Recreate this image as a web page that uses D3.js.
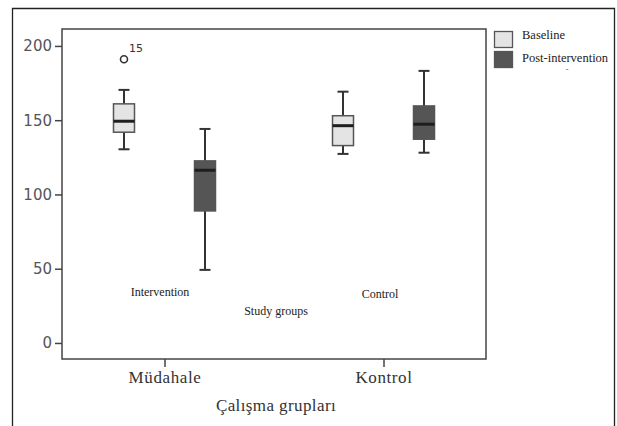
<!DOCTYPE html>
<html><head><meta charset="utf-8">
<script src="https://cdn.jsdelivr.net/npm/d3@7"></script>
<style>body{margin:0;background:#fff}svg{display:block}</style>
</head><body>
<svg id="c" width="617" height="426"></svg>
<script>
const categories = ["Müdahale", "Kontrol"];
const seriesNames = ["Baseline", "Post-intervention"];
// [lowWhisker, Q1, median, Q3, highWhisker]
const baselineStats = [[130.4, 141.9, 149.3, 161, 170.4], [127.3, 132.9, 146.3, 153, 169.2]];
const postStats = [[49.2, 88.9, 116.3, 122.6, 144.1], [128.1, 137.2, 147.3, 159.6, 183.2]];
const outliers = [{cat: "Müdahale", series: 0, value: 191, label: "15"}];
const yTicks = [0, 50, 100, 150, 200];
const annotations = [
  {text: "Intervention", x: 160, y: 292},
  {text: "Study groups", x: 276, y: 311},
  {text: "Control", x: 380, y: 294}
];
const fills = ["#e4e4e4", "#555555"];

const svg = d3.select("#c");
// outer frame (extends beyond bottom)
svg.append("path").attr("d", "M12.5,440 V8.5 H614.5 V440").attr("fill", "none").attr("stroke", "#222").attr("stroke-width", 1.3);

const L = 62, R = 486, T = 29, B = 359;
const y = d3.scaleLinear().domain([-10.8, 211.4]).range([B, T]);
const x = d3.scalePoint().domain(categories).range([L, R]).padding(0.468);
const offsets = [-40.5, 40.5];
const boxW = 21;

svg.append("rect").attr("x", L).attr("y", T).attr("width", R - L).attr("height", B - T)
  .attr("fill", "none").attr("stroke", "#444").attr("stroke-width", 1.5);

const yAxis = svg.append("g").attr("transform", `translate(${L},0)`)
  .call(d3.axisLeft(y).tickValues(yTicks).tickSize(7).tickPadding(3));
yAxis.select(".domain").remove();
yAxis.selectAll("line").attr("stroke", "#444").attr("stroke-width", 1.5);
yAxis.selectAll("text").attr("fill", "#555").attr("font-family", "DejaVu Sans, sans-serif").attr("font-size", 15);

const xAxis = svg.append("g").attr("transform", `translate(0,${B})`)
  .call(d3.axisBottom(x).tickSize(8).tickPadding(4));
xAxis.select(".domain").remove();
xAxis.selectAll("line").attr("stroke", "#444").attr("stroke-width", 1.5);
xAxis.selectAll("text").attr("fill", "#333").attr("font-family", "Liberation Serif, serif").attr("font-size", 17).attr("letter-spacing", 0.6);

svg.append("text").attr("x", 276).attr("y", 411).attr("text-anchor", "middle")
  .attr("font-family", "Liberation Serif, serif").attr("font-size", 17).attr("fill", "#333").attr("letter-spacing", 0.4)
  .text("Çalışma grupları");

[baselineStats, postStats].forEach((stats, si) => {
  stats.forEach((s, ci) => {
    const cx = x(categories[ci]) + offsets[si];
    const g = svg.append("g");
    const [lo, q1, med, q3, hi] = s;
    g.append("line").attr("x1", cx).attr("x2", cx).attr("y1", y(hi)).attr("y2", y(q3)).attr("stroke", "#333").attr("stroke-width", 2);
    g.append("line").attr("x1", cx).attr("x2", cx).attr("y1", y(q1)).attr("y2", y(lo)).attr("stroke", "#333").attr("stroke-width", 2);
    [lo, hi].forEach(v => g.append("line").attr("x1", cx - 5.5).attr("x2", cx + 5.5).attr("y1", y(v)).attr("y2", y(v)).attr("stroke", "#333").attr("stroke-width", 2));
    g.append("rect").attr("x", cx - boxW / 2).attr("y", y(q3)).attr("width", boxW).attr("height", y(q1) - y(q3))
      .attr("fill", fills[si]).attr("stroke", "#555").attr("stroke-width", 1.5);
    g.append("line").attr("x1", cx - boxW / 2).attr("x2", cx + boxW / 2).attr("y1", y(med)).attr("y2", y(med)).attr("stroke", "#1e1e1e").attr("stroke-width", 3);
  });
});

outliers.forEach(o => {
  const cx = x(o.cat) + offsets[o.series];
  svg.append("circle").attr("cx", cx).attr("cy", y(o.value)).attr("r", 3.5).attr("fill", "none").attr("stroke", "#333").attr("stroke-width", 1.6);
  svg.append("text").attr("x", cx + 5).attr("y", y(o.value) - 7).attr("font-family", "DejaVu Sans, sans-serif").attr("font-size", 11).attr("fill", "#333").text(o.label);
});

annotations.forEach(a => svg.append("text").attr("x", a.x).attr("y", a.y + 4).attr("text-anchor", "middle")
  .attr("font-family", "Liberation Serif, serif").attr("font-size", 12).attr("fill", "#222").text(a.text));

const leg = svg.append("g");
seriesNames.forEach((n, i) => {
  const ly = 31 + i * 20;
  leg.append("rect").attr("x", 494.5).attr("y", ly + 0.5).attr("width", 18).attr("height", 16).attr("fill", fills[i]).attr("stroke", "#555").attr("stroke-width", 1.3);
  leg.append("text").attr("x", 522).attr("y", i === 0 ? 38.5 : 61.5).attr("font-family", "Liberation Serif, serif").attr("font-size", 12.5).attr("fill", "#222").text(n);
});
leg.append("text").attr("x", 567).attr("y", 72).attr("text-anchor", "middle").attr("font-family", "Liberation Serif, serif").attr("font-size", 8).attr("fill", "#555").text("-");
</script>
</body></html>
